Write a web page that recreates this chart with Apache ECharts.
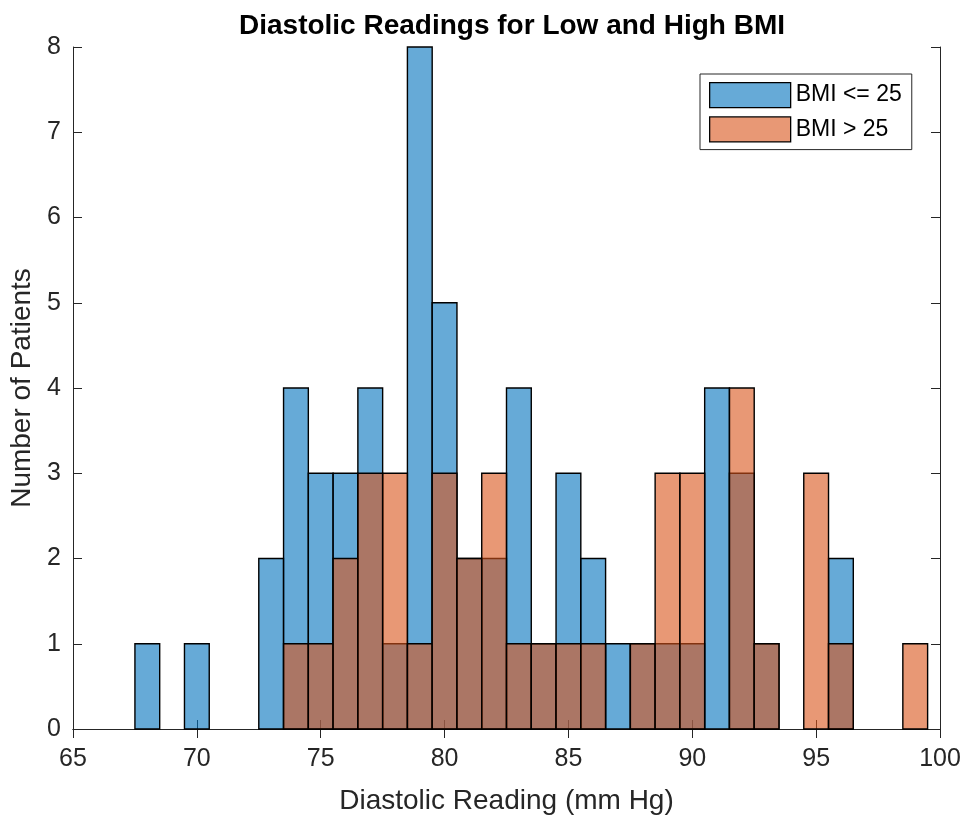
<!DOCTYPE html>
<html>
<head>
<meta charset="utf-8">
<script src="https://cdn.jsdelivr.net/npm/echarts@6/dist/echarts.min.js"></script>
<style>
html,body{margin:0;padding:0;background:#fff;}
#chart{width:964px;height:820px;}
</style>
</head>
<body>
<div id="chart"></div>
<script>
// Histogram bins (centers, width 1)
const binCenters = [68,69,70,71,72,73,74,75,76,77,78,79,80,81,82,83,84,85,86,87,88,89,90,91,92,93,94,95,96,97,98,99];
const lowBmiCounts  = [1,0,1,0,0,2,4,3,3,4,1,8,5,2,2,4,1,3,2,1,1,1,1,4,3,1,0,0,2,0,0,0];
const highBmiCounts = [0,0,0,0,0,0,1,1,2,3,3,1,3,2,3,1,1,1,1,0,1,3,3,0,4,1,0,3,1,0,0,1];
const binWidth = 1;
const xTicks = [65,70,75,80,85,90,95,100];
const yTicks = [0,1,2,3,4,5,6,7,8];
const seriesNames = ['BMI <= 25', 'BMI > 25'];

const FONT = '"Liberation Sans", Arial, Helvetica, sans-serif';
const AX = '#262626';

function toData(counts) {
  return binCenters.map((c, i) => [c - binWidth / 2, c + binWidth / 2, counts[i]]);
}

function makeRender(fill) {
  return function (params, api) {
    const v = api.value(2);
    if (!v) return null;
    const p0 = api.coord([api.value(0), 0]);
    const p1 = api.coord([api.value(1), v]);
    return {
      type: 'rect',
      shape: { x: p0[0], y: p1[1], width: p1[0] - p0[0], height: p0[1] - p1[1] },
      style: { fill: fill, stroke: '#000', lineWidth: 1.4 }
    };
  };
}

const chart = echarts.init(document.getElementById('chart'), null, { renderer: 'canvas' });
const axisCommon = {
  axisLine: { show: true, lineStyle: { color: AX, width: 1 } },
  axisTick: { show: true, inside: true, length: 9, lineStyle: { color: AX, width: 1 } },
  splitLine: { show: false }
};

chart.setOption({
  animation: false,
  backgroundColor: '#fff',
  title: {
    text: 'Diastolic Readings for Low and High BMI',
    left: 507, top: 7, textAlign: 'center',
    textStyle: { fontFamily: FONT, fontSize: 28, fontWeight: 'bold', color: '#000' }
  },
  grid: { left: 73, right: 24, top: 47, bottom: 87, containLabel: false },
  legend: {
    orient: 'vertical', left: 700, top: 74,
    padding: [8, 10, 7, 9],
    itemWidth: 81, itemHeight: 25, itemGap: 8,
    borderColor: AX, borderWidth: 1,
    backgroundColor: '#fff',
    textStyle: { fontFamily: FONT, fontSize: 23, color: '#000' },
    data: [
      { name: seriesNames[0], icon: 'rect', itemStyle: { color: '#66AAD7', borderColor: '#000', borderWidth: 1.3 } },
      { name: seriesNames[1], icon: 'rect', itemStyle: { color: '#E89875', borderColor: '#000', borderWidth: 1.3 } }
    ]
  },
  xAxis: [
    Object.assign({
      type: 'value', min: xTicks[0], max: xTicks[xTicks.length - 1], interval: 5, position: 'bottom',
      name: 'Diastolic Reading (mm Hg)', nameLocation: 'middle', nameGap: 58,
      nameTextStyle: { fontFamily: FONT, fontSize: 28, color: AX },
      axisLabel: { fontFamily: FONT, fontSize: 25, color: AX, margin: 18 }
    }, axisCommon),
    Object.assign({
      type: 'value', min: xTicks[0], max: xTicks[xTicks.length - 1], interval: 5, position: 'top',
      axisLabel: { show: false }
    }, axisCommon)
  ],
  yAxis: [
    Object.assign({
      type: 'value', min: yTicks[0], max: yTicks[yTicks.length - 1], interval: 1, position: 'left',
      name: 'Number of Patients', nameLocation: 'middle', nameGap: 37, nameRotate: 90,
      nameTextStyle: { fontFamily: FONT, fontSize: 28, color: AX },
      axisLabel: { fontFamily: FONT, fontSize: 25, color: AX, margin: 12 }
    }, axisCommon),
    Object.assign({
      type: 'value', min: yTicks[0], max: yTicks[yTicks.length - 1], interval: 1, position: 'right',
      axisLabel: { show: false }
    }, axisCommon)
  ],
  series: [
    {
      name: seriesNames[0], type: 'custom', xAxisIndex: 0, yAxisIndex: 0,
      renderItem: makeRender('rgba(0,114,189,0.6)'),
      itemStyle: { color: '#66AAD7', borderColor: '#000' },
      encode: { x: [0, 1], y: 2 },
      data: toData(lowBmiCounts), z: 2
    },
    {
      name: seriesNames[1], type: 'custom', xAxisIndex: 0, yAxisIndex: 0,
      renderItem: makeRender('rgba(217,83,25,0.6)'),
      itemStyle: { color: '#E89875', borderColor: '#000' },
      encode: { x: [0, 1], y: 2 },
      data: toData(highBmiCounts), z: 3
    }
  ]
});
</script>
</body>
</html>
